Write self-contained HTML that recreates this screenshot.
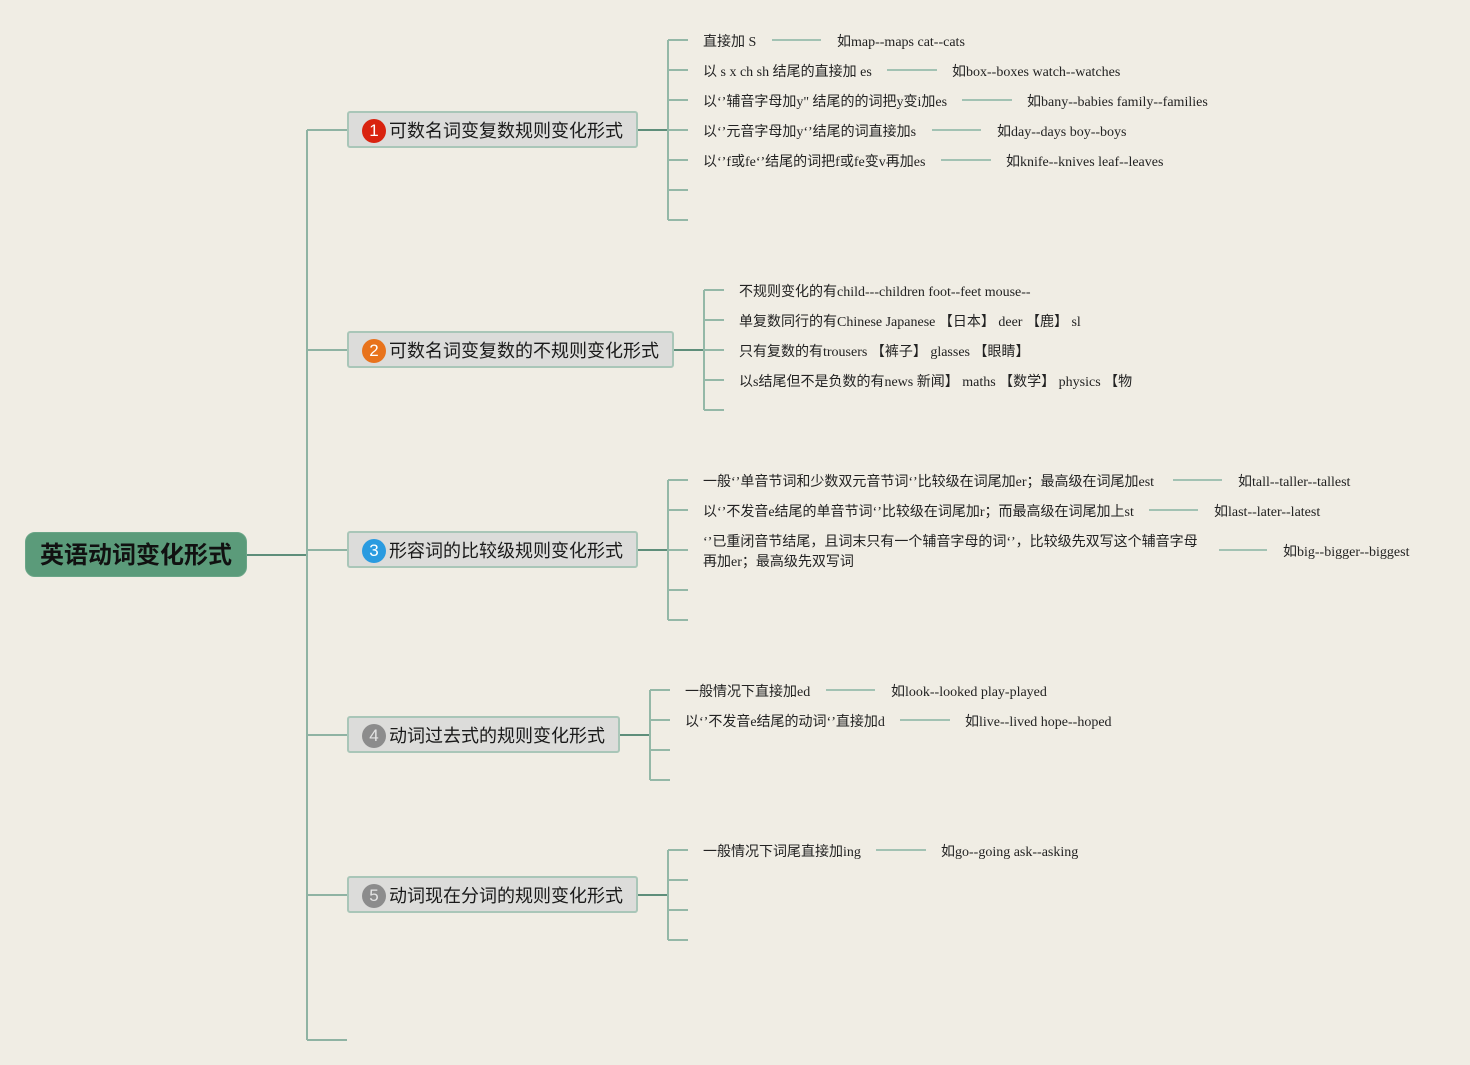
<!DOCTYPE html>
<html>
<head>
<meta charset="utf-8">
<style>
  html,body{margin:0;padding:0;}
  body{width:1470px;height:1065px;background:#f0ede4;position:relative;overflow:hidden;
       font-family:"Liberation Serif","Noto Sans CJK SC",serif;color:#222;}
  svg{position:absolute;left:0;top:0;}
  .t{position:absolute;font-size:14px;line-height:20px;white-space:nowrap;color:#222;margin-top:3px;}
  .root{position:absolute;left:25px;top:532px;width:222px;height:45px;background:#5b9b7a;border-radius:10px;
        font-family:"Liberation Sans","Noto Sans CJK SC",sans-serif;font-weight:bold;font-size:24px;line-height:45px;
        text-align:center;color:#111;box-sizing:border-box;border:1px solid #6aa587;padding-top:2px;line-height:41px;}
  .node{position:absolute;height:37px;background:#dcdcda;border:2px solid #a9c6b8;border-radius:3px;box-sizing:border-box;}
  .nt{position:absolute;left:389px;font-family:"Liberation Sans","Noto Sans CJK SC",sans-serif;font-size:18px;line-height:37px;white-space:nowrap;color:#1a1a1a;margin-top:2px;}
  .ic{position:absolute;left:362px;width:24px;height:24px;border-radius:50%;color:#fff;text-align:center;
      font-family:"Liberation Sans",sans-serif;font-size:17px;line-height:24px;margin-top:1px;}
</style>
</head>
<body>
<svg width="1470" height="1065" viewBox="0 0 1470 1065">
  <g fill="none" stroke-width="2">
    <path d="M247 555 H307" stroke="#5e8e7a"/>
    <path d="M307 130 V1040 M307 130 H347 M307 350 H347 M307 550 H347 M307 735 H347 M307 895 H347 M307 1040 H347" stroke="#8fb3a3"/>
    <!-- node connectors -->
    <path d="M638 130 H668 M674 350 H704 M638 550 H668 M620 735 H650 M638 895 H668" stroke="#5e8e7a"/>
    <!-- brackets -->
    <g stroke="#94b8a7">
      <path d="M668 40 V220 M668 40 H688 M668 70 H688 M668 100 H688 M668 130 H688 M668 160 H688 M668 190 H688 M668 220 H688"/>
      <path d="M704 290 V410 M704 290 H724 M704 320 H724 M704 350 H724 M704 380 H724 M704 410 H724"/>
      <path d="M668 480 V620 M668 480 H688 M668 510 H688 M668 550 H688 M668 590 H688 M668 620 H688"/>
      <path d="M650 690 V780 M650 690 H670 M650 720 H670 M650 750 H670 M650 780 H670"/>
      <path d="M668 850 V940 M668 850 H688 M668 880 H688 M668 910 H688 M668 940 H688"/>
    </g>
    <!-- example connectors -->
    <g stroke="#a2c2b3">
      <path d="M772 40 H821 M887 70 H937 M962 100 H1012 M932 130 H981 M941 160 H991"/>
      <path d="M1173 480 H1222 M1149 510 H1198 M1219 550 H1267"/>
      <path d="M826 690 H875 M900 720 H950"/>
      <path d="M876 850 H926"/>
    </g>
  </g>
</svg>

<div class="root">英语动词变化形式</div>

<div class="node" style="left:347px;top:111px;width:291px;"></div>
<div class="ic" style="top:118px;background:#d9230f;">1</div>
<div class="nt" style="top:111px;">可数名词变复数规则变化形式</div>

<div class="node" style="left:347px;top:331px;width:327px;"></div>
<div class="ic" style="top:338px;background:#e8731c;">2</div>
<div class="nt" style="top:331px;">可数名词变复数的不规则变化形式</div>

<div class="node" style="left:347px;top:531px;width:291px;"></div>
<div class="ic" style="top:538px;background:#2a9be0;">3</div>
<div class="nt" style="top:531px;">形容词的比较级规则变化形式</div>

<div class="node" style="left:347px;top:716px;width:273px;"></div>
<div class="ic" style="top:723px;background:#8c8c8c;color:#e4e4e4;">4</div>
<div class="nt" style="top:716px;">动词过去式的规则变化形式</div>

<div class="node" style="left:347px;top:876px;width:291px;"></div>
<div class="ic" style="top:883px;background:#8c8c8c;color:#e4e4e4;">5</div>
<div class="nt" style="top:876px;">动词现在分词的规则变化形式</div>

<!-- Node 1 leaves -->
<div class="t" style="left:703px;top:30px;">直接加 S</div>
<div class="t" style="left:837px;top:30px;">如map--maps cat--cats</div>
<div class="t" style="left:703px;top:60px;">以 s x ch sh 结尾的直接加 es</div>
<div class="t" style="left:952px;top:60px;">如box--boxes watch--watches</div>
<div class="t" style="left:703px;top:90px;">以‘’辅音字母加y" 结尾的的词把y变i加es</div>
<div class="t" style="left:1027px;top:90px;">如bany--babies family--families</div>
<div class="t" style="left:703px;top:120px;">以‘’元音字母加y‘’结尾的词直接加s</div>
<div class="t" style="left:997px;top:120px;">如day--days boy--boys</div>
<div class="t" style="left:703px;top:150px;">以‘’f或fe‘’结尾的词把f或fe变v再加es</div>
<div class="t" style="left:1006px;top:150px;">如knife--knives leaf--leaves</div>

<!-- Node 2 leaves -->
<div class="t" style="left:739px;top:280px;">不规则变化的有child---children foot--feet mouse--</div>
<div class="t" style="left:739px;top:310px;">单复数同行的有Chinese Japanese 【日本】 deer 【鹿】 sl</div>
<div class="t" style="left:739px;top:340px;">只有复数的有trousers 【裤子】 glasses 【眼睛】</div>
<div class="t" style="left:739px;top:370px;">以s结尾但不是负数的有news 新闻】 maths 【数学】 physics 【物</div>

<!-- Node 3 leaves -->
<div class="t" style="left:703px;top:470px;">一般‘’单音节词和少数双元音节词‘’比较级在词尾加er；最高级在词尾加est</div>
<div class="t" style="left:1238px;top:470px;">如tall--taller--tallest</div>
<div class="t" style="left:703px;top:500px;">以‘’不发音e结尾的单音节词‘’比较级在词尾加r；而最高级在词尾加上st</div>
<div class="t" style="left:1214px;top:500px;">如last--later--latest</div>
<div class="t" style="left:703px;top:530px;">‘’已重闭音节结尾，且词末只有一个辅音字母的词‘’，比较级先双写这个辅音字母<br>再加er；最高级先双写词</div>
<div class="t" style="left:1283px;top:540px;">如big--bigger--biggest</div>

<!-- Node 4 leaves -->
<div class="t" style="left:685px;top:680px;">一般情况下直接加ed</div>
<div class="t" style="left:891px;top:680px;">如look--looked play-played</div>
<div class="t" style="left:685px;top:710px;">以‘’不发音e结尾的动词‘’直接加d</div>
<div class="t" style="left:965px;top:710px;">如live--lived hope--hoped</div>

<!-- Node 5 leaves -->
<div class="t" style="left:703px;top:840px;">一般情况下词尾直接加ing</div>
<div class="t" style="left:941px;top:840px;">如go--going ask--asking</div>
</body>
</html>
